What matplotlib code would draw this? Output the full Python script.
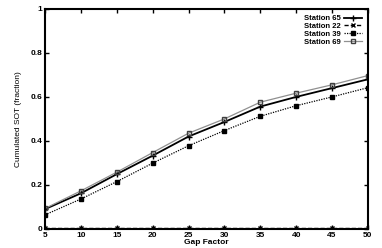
import matplotlib
matplotlib.use('Agg')
from matplotlib import pyplot as plt

plt.rcParams['font.family'] = ['Liberation Sans', 'DejaVu Sans']

gap = [5, 10, 15, 20, 25, 30, 35, 40, 45, 50]
st65 = [0.09, 0.162, 0.249, 0.333, 0.42, 0.486, 0.556, 0.60, 0.64, 0.68]
st22 = [0.004, 0.004, 0.004, 0.004, 0.004, 0.004, 0.004, 0.004, 0.004, 0.004]
st39 = [0.064, 0.136, 0.215, 0.299, 0.378, 0.447, 0.512, 0.56, 0.60, 0.642]
st69 = [0.093, 0.173, 0.258, 0.347, 0.435, 0.50, 0.576, 0.617, 0.655, 0.697]

fig = plt.figure(figsize=(3.82, 2.48), dpi=100)
ax = fig.add_axes([0.118, 0.077, 0.845, 0.887])

ax.plot(gap, st65, color='black', lw=1.3, marker='+', ms=4, mew=1, label='Station 65')
ax.plot(gap, st22, color='black', lw=1, ls=(0, (3, 1.5)), marker='x', ms=3, mew=1, label='Station 22')
ax.plot(gap, st39, color='black', lw=0.9, ls=(0, (1, 1)), marker='s', ms=2.2, label='Station 39')
ax.plot(gap, st69, color='#909090', lw=0.9, marker='s', ms=3.5, mfc='none', mec='#404040', mew=1, label='Station 69')

ax.set_xlim(5, 50)
ax.set_ylim(0, 1)
ax.set_xticks(gap)
ax.set_yticks([0, 0.2, 0.4, 0.6, 0.8, 1])
ax.set_yticklabels(['0', '0.2', '0.4', '0.6', '0.8', '1'])
ax.tick_params(direction='in', top=True, right=True, length=3, width=1, labelsize=6, pad=2)
for lbl in ax.get_xticklabels() + ax.get_yticklabels():
    lbl.set_fontweight('bold')
for s in ax.spines.values():
    s.set_linewidth(1.5)

ax.set_xlabel('Gap Factor', fontsize=6, fontweight='bold', labelpad=0)
ax.set_ylabel('Cumulated SOT (fraction)', fontsize=6, labelpad=6)

ax.legend(loc='upper right', frameon=False, markerfirst=False,
          handlelength=2.3, handletextpad=0.5, labelspacing=0.05, borderaxespad=0.4,
          prop={'weight': 'bold', 'size': 5.5})

fig.savefig('out.png', dpi=100)
